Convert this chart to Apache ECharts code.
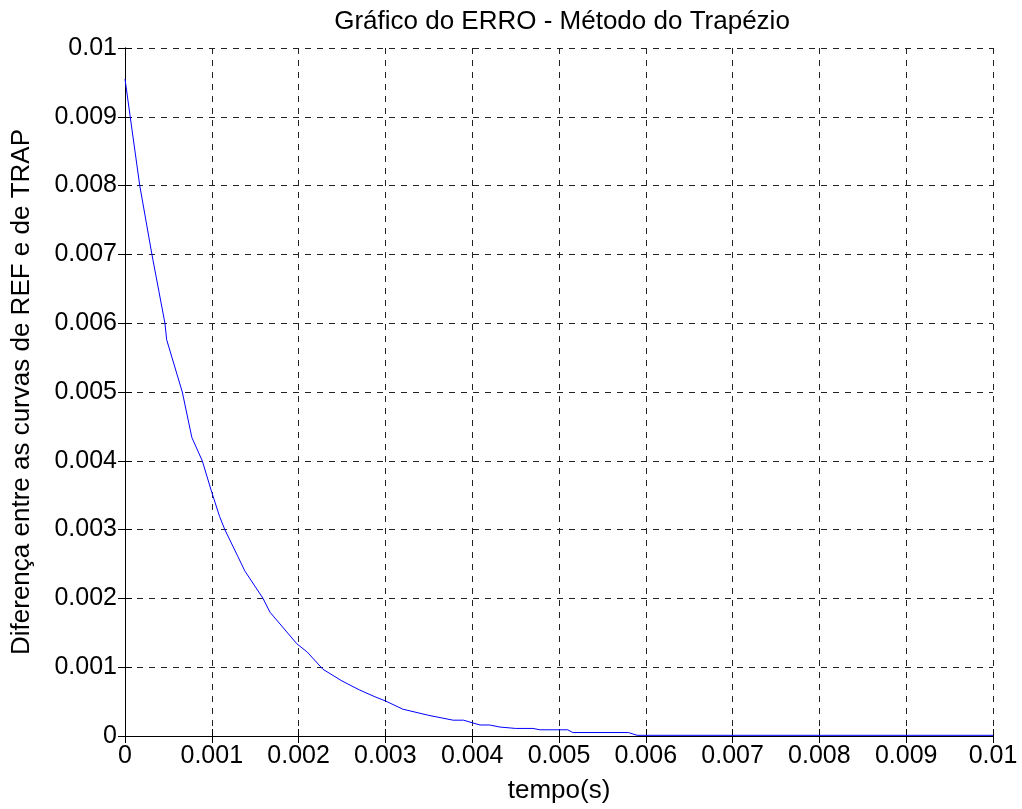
<!DOCTYPE html>
<html>
<head>
<meta charset="utf-8">
<script src="https://cdn.jsdelivr.net/npm/echarts@6/dist/echarts.min.js"></script>
<style>html,body{margin:0;padding:0;background:#fff}#c{width:1022px;height:809px}</style>
</head>
<body>
<div id="c"></div>
<script>
const titleText = 'Gráfico do ERRO - Método do Trapézio';
const xName = 'tempo(s)';
const yName = 'Diferença entre as curvas de REF e de TRAP';
const tempo = [0, 0.00006, 0.00017, 0.00031, 0.00046, 0.00048, 0.00066, 0.00077, 0.00089, 0.001, 0.00109, 0.00115, 0.0013, 0.00138, 0.00159, 0.00167, 0.00198, 0.0021, 0.00228, 0.0025, 0.0027, 0.00288, 0.003, 0.0032, 0.0035, 0.00378, 0.0039, 0.00409, 0.0042, 0.00432, 0.0045, 0.0047, 0.00478, 0.0051, 0.00516, 0.0058, 0.0059, 0.01];
const erro = [0.00955, 0.009, 0.008, 0.007, 0.006, 0.00576, 0.005, 0.00434, 0.004, 0.00354, 0.00319, 0.003, 0.00261, 0.0024, 0.002, 0.0018, 0.00134, 0.00122, 0.00097, 0.0008, 0.00067, 0.00057, 0.00051, 0.00039, 0.0003, 0.00023, 0.00023, 0.00016, 0.00016, 0.00013, 0.00011, 0.00011, 0.00009, 0.00009, 0.00005, 0.00005, 0.00001, 0.00001];

const chart = echarts.init(document.getElementById('c'));
const font = 'Liberation Sans, Arial, Helvetica, sans-serif';
const fmt = v => String(parseFloat(v.toFixed(4)));
const axisLine = {show: true, lineStyle: {color: '#000', width: 1}};
const tick = {show: true, inside: true, length: 7, lineStyle: {color: '#000'}};
const split = {show: true, lineStyle: {color: '#222', type: [6, 6], width: 1}};
chart.setOption({
  animation: false,
  backgroundColor: '#fff',
  title: {text: titleText, left: 557, top: 4, textAlign: 'center',
    textStyle: {fontFamily: font, fontSize: 26, fontWeight: 'normal', color: '#000'}},
  grid: {left: 125, right: 29, top: 48, bottom: 72},
  xAxis: [
    {type: 'value', min: 0, max: 0.01, interval: 0.001, position: 'bottom',
      name: xName, nameLocation: 'middle', nameGap: 42,
      nameTextStyle: {fontFamily: font, fontSize: 26, color: '#000'},
      axisLine, axisTick: tick, splitLine: split,
      axisLabel: {formatter: fmt, fontFamily: font, fontSize: 25, color: '#000', margin: 8}},
    {type: 'value', min: 0, max: 0.01, interval: 0.001, position: 'top',
      axisLine, axisTick: tick, splitLine: {show: false}, axisLabel: {show: false}}
  ],
  yAxis: [
    {type: 'value', min: 0, max: 0.01, interval: 0.001, position: 'left',
      name: yName, nameLocation: 'middle', nameGap: 90,
      nameTextStyle: {fontFamily: font, fontSize: 26, color: '#000'},
      axisLine, axisTick: tick, splitLine: split,
      axisLabel: {formatter: fmt, fontFamily: font, fontSize: 25, color: '#000', margin: 8}},
    {type: 'value', min: 0, max: 0.01, interval: 0.001, position: 'right',
      axisLine, axisTick: tick, splitLine: {show: false}, axisLabel: {show: false}}
  ],
  series: [{
    type: 'line', xAxisIndex: 0, yAxisIndex: 0,
    data: tempo.map((t, i) => [t, erro[i]]),
    showSymbol: false, symbol: 'none',
    lineStyle: {color: '#0000ff', width: 1},
    z: 5
  }]
});
</script>
</body>
</html>
